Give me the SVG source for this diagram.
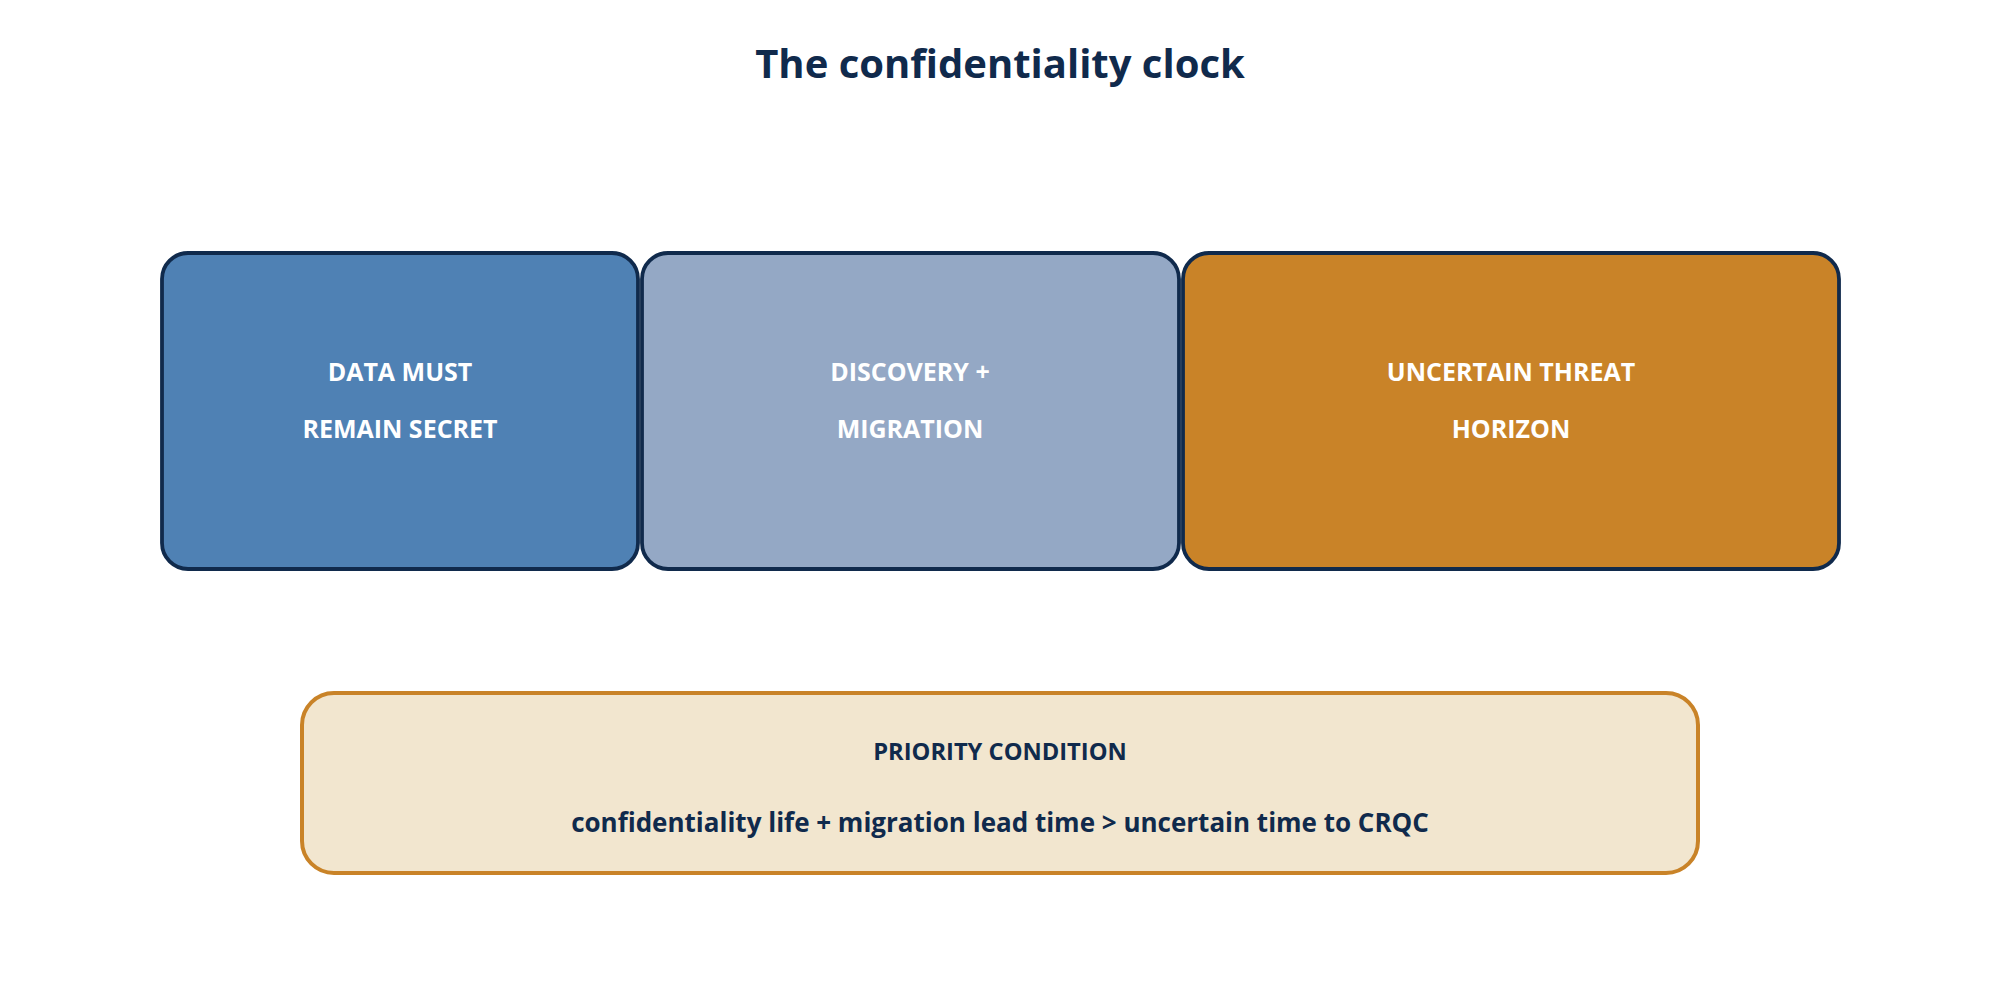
<svg xmlns="http://www.w3.org/2000/svg" width="2000" height="1000" viewBox="0 0 2000 1000">
<style>
.box{stroke:#102a4c;stroke-width:3.8}
.lbl{font-family:"Open Sans","Noto Sans","Liberation Sans",sans-serif;font-weight:700;font-size:25px;fill:#ffffff;text-anchor:middle}
.dark{font-family:"Open Sans","Noto Sans","Liberation Sans",sans-serif;font-weight:700;fill:#102a4c;text-anchor:middle}
</style>
<rect x="0" y="0" width="2000" height="1000" fill="#ffffff"/>
<text id="title" class="dark" x="1000" y="78" font-size="40">The confidentiality clock</text>
<g id="node-data">
<rect class="box" x="162" y="253" width="476" height="316" rx="26" fill="#4f81b4"/>
<text class="lbl" x="400" y="381">DATA MUST</text>
<text class="lbl" x="400" y="438">REMAIN SECRET</text>
</g>
<g id="node-discovery">
<rect class="box" x="642" y="253" width="537" height="316" rx="26" fill="#94a8c5"/>
<text class="lbl" x="910" y="381">DISCOVERY +</text>
<text class="lbl" x="910" y="438">MIGRATION</text>
</g>
<g id="node-threat">
<rect class="box" x="1183" y="253" width="656" height="316" rx="26" fill="#c98328"/>
<text class="lbl" x="1511" y="381">UNCERTAIN THREAT</text>
<text class="lbl" x="1511" y="438">HORIZON</text>
</g>
<g id="node-priority">
<rect x="302" y="693" width="1396" height="180" rx="32" fill="#f2e6cf" stroke="#c98328" stroke-width="4"/>
<text class="dark" x="1000" y="760" font-size="23.7">PRIORITY CONDITION</text>
<text class="dark" x="1000" y="832" font-size="26">confidentiality life + migration lead time &gt; uncertain time to CRQC</text>
</g>
<g id="connectors"></g>
</svg>
